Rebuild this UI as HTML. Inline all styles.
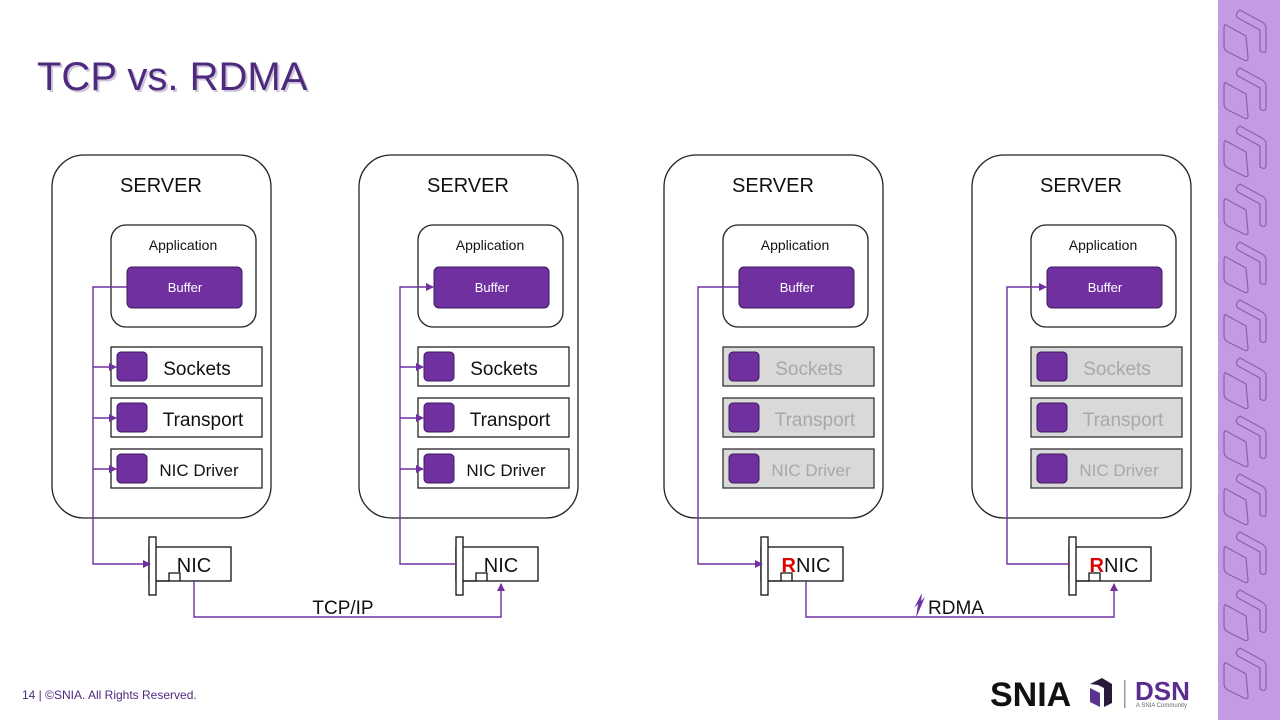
<!DOCTYPE html>
<html><head><meta charset="utf-8"><style>
body{margin:0;width:1280px;height:720px;overflow:hidden;background:#fff;font-family:"Liberation Sans",sans-serif}
</style></head><body>
<svg width="1280" height="720" viewBox="0 0 1280 720" xmlns="http://www.w3.org/2000/svg" font-family="Liberation Sans, sans-serif">
<defs>
<marker id="a" markerWidth="8" markerHeight="8" refX="7" refY="4" orient="auto" markerUnits="userSpaceOnUse"><path d="M0,0 L8,4 L0,8 z" fill="#7030a0"/></marker>
<g id="srv">
<rect x="52" y="155" width="219" height="363" rx="32" fill="#fff" stroke="#222" stroke-width="1.3"/>
<text x="161" y="192" font-size="20" text-anchor="middle" fill="#111">SERVER</text>
<rect x="111" y="225" width="145" height="102" rx="15" fill="#fff" stroke="#222" stroke-width="1.3"/>
<text x="183" y="250" font-size="14" text-anchor="middle" fill="#111">Application</text>
<rect x="127" y="267" width="115" height="41" rx="5" fill="#7030a0" stroke="#3d1a5c"/>
<text x="185" y="292" font-size="13" text-anchor="middle" fill="#fff">Buffer</text>
<rect x="149" y="547" width="82" height="34" fill="#fff" stroke="#111" stroke-width="1.3"/>
<rect x="149" y="537" width="7" height="58" fill="#fff" stroke="#111" stroke-width="1.3"/>
<path d="M156,581 L169,581 L169,573 L180,573 L180,581" fill="none" stroke="#111" stroke-width="1.3"/>
</g>
<g id="lay">
<rect x="111" y="347" width="151" height="39" fill="#fff" stroke="#222" stroke-width="1.3"/>
<rect x="117" y="352" width="30" height="29" rx="4" fill="#7030a0" stroke="#3d1a5c"/>
<text x="197" y="375" font-size="19" text-anchor="middle" fill="#111">Sockets</text>
<rect x="111" y="398" width="151" height="39" fill="#fff" stroke="#222" stroke-width="1.3"/>
<rect x="117" y="403" width="30" height="29" rx="4" fill="#7030a0" stroke="#3d1a5c"/>
<text x="203" y="426" font-size="19" text-anchor="middle" fill="#111">Transport</text>
<rect x="111" y="449" width="151" height="39" fill="#fff" stroke="#222" stroke-width="1.3"/>
<rect x="117" y="454" width="30" height="29" rx="4" fill="#7030a0" stroke="#3d1a5c"/>
<text x="199" y="476" font-size="17" text-anchor="middle" fill="#111">NIC Driver</text>
</g>
<g id="layg">
<rect x="111" y="347" width="151" height="39" fill="#d9d9d9" stroke="#333" stroke-width="1.3"/>
<rect x="117" y="352" width="30" height="29" rx="4" fill="#7030a0" stroke="#3d1a5c"/>
<text x="197" y="375" font-size="19" text-anchor="middle" fill="#a8a8a8">Sockets</text>
<rect x="111" y="398" width="151" height="39" fill="#d9d9d9" stroke="#333" stroke-width="1.3"/>
<rect x="117" y="403" width="30" height="29" rx="4" fill="#7030a0" stroke="#3d1a5c"/>
<text x="203" y="426" font-size="19" text-anchor="middle" fill="#a8a8a8">Transport</text>
<rect x="111" y="449" width="151" height="39" fill="#d9d9d9" stroke="#333" stroke-width="1.3"/>
<rect x="117" y="454" width="30" height="29" rx="4" fill="#7030a0" stroke="#3d1a5c"/>
<text x="199" y="476" font-size="17" text-anchor="middle" fill="#a8a8a8">NIC Driver</text>
</g>
<g id="br" fill="none" stroke="#7030a0" stroke-width="1.4">
<path d="M93,367 L116,367" marker-end="url(#a)"/>
<path d="M93,418 L116,418" marker-end="url(#a)"/>
<path d="M93,469 L116,469" marker-end="url(#a)"/>
</g>
</defs>

<text x="37" y="90" font-size="40" fill="#cfc6da" transform="translate(2,2)">TCP vs. RDMA</text>
<text x="37" y="90" font-size="40" fill="#4e2a7e">TCP vs. RDMA</text>

<use href="#srv"/>
<use href="#srv" transform="translate(307,0)"/>
<use href="#srv" transform="translate(612,0)"/>
<use href="#srv" transform="translate(920,0)"/>
<use href="#lay"/>
<use href="#lay" transform="translate(307,0)"/>
<use href="#layg" transform="translate(612,0)"/>
<use href="#layg" transform="translate(920,0)"/>
<use href="#br"/>
<use href="#br" transform="translate(307,0)"/>

<g font-size="20" fill="#111" text-anchor="middle">
<text x="194" y="572">NIC</text>
<text x="501" y="572">NIC</text>
<text x="806" y="572"><tspan fill="#e00000" font-weight="bold">R</tspan>NIC</text>
<text x="1114" y="572"><tspan fill="#e00000" font-weight="bold">R</tspan>NIC</text>
</g>

<g fill="none" stroke="#7030a0" stroke-width="1.4">
<path d="M127,287 L93,287 L93,564 L150,564" marker-end="url(#a)"/>
<path d="M194,581 L194,617 L501,617 L501,584" marker-end="url(#a)"/>
<path d="M457,564 L400,564 L400,287 L433,287" marker-end="url(#a)"/>
<path d="M739,287 L698,287 L698,564 L762,564" marker-end="url(#a)"/>
<path d="M806,581 L806,617 L1114,617 L1114,584" marker-end="url(#a)"/>
<path d="M1070,564 L1007,564 L1007,287 L1046,287" marker-end="url(#a)"/>
</g>

<text x="343" y="614" font-size="19" fill="#111" text-anchor="middle">TCP/IP</text>
<path d="M916,618 L918,604 L914,608 L922,593 L921,601 L925,597 Z" fill="#7030a0"/>
<text x="956" y="614" font-size="19" fill="#111" text-anchor="middle">RDMA</text>

<text x="22" y="699" font-size="12" fill="#4e2a7e">14 | ©SNIA. All Rights Reserved.</text>

<text x="990" y="706" font-size="34" font-weight="bold" fill="#111">SNIA</text>
<path d="M1090,684 L1102,678 L1112,684 L1112,703 L1104,707 L1104,688 L1098,685 Z" fill="#2b1a3b"/>
<path d="M1090,688 L1100,693 L1100,707 L1090,702 Z" fill="#5a3390"/>
<rect x="1124" y="680" width="1.5" height="28" fill="#999"/>
<text x="1135" y="700" font-size="26" font-weight="bold" fill="#5b2d91">DSN</text>
<text x="1136" y="707" font-size="6" fill="#666">A SNIA Community</text>

<rect x="1218" y="0" width="62" height="720" fill="#c39be3"/>
<g fill="none" stroke="#7a52a8" stroke-width="1.2" opacity="0.8">
<g id="tile">
<path d="M1240,10 L1262,22 Q1266,24 1266,28 L1266,48 Q1266,54 1262,52 L1260,51 L1260,30 L1238,18 Q1234,14 1240,10 Z"/>
<path d="M1226,25 L1246,36 L1248,58 Q1248,62 1244,60 L1228,52 Q1224,50 1224,46 L1224,28 Q1224,24 1226,25 Z"/>
</g>
<use href="#tile" transform="translate(0,58)"/>
<use href="#tile" transform="translate(0,116)"/>
<use href="#tile" transform="translate(0,174)"/>
<use href="#tile" transform="translate(0,232)"/>
<use href="#tile" transform="translate(0,290)"/>
<use href="#tile" transform="translate(0,348)"/>
<use href="#tile" transform="translate(0,406)"/>
<use href="#tile" transform="translate(0,464)"/>
<use href="#tile" transform="translate(0,522)"/>
<use href="#tile" transform="translate(0,580)"/>
<use href="#tile" transform="translate(0,638)"/>
</g>
</svg>
</body></html>
